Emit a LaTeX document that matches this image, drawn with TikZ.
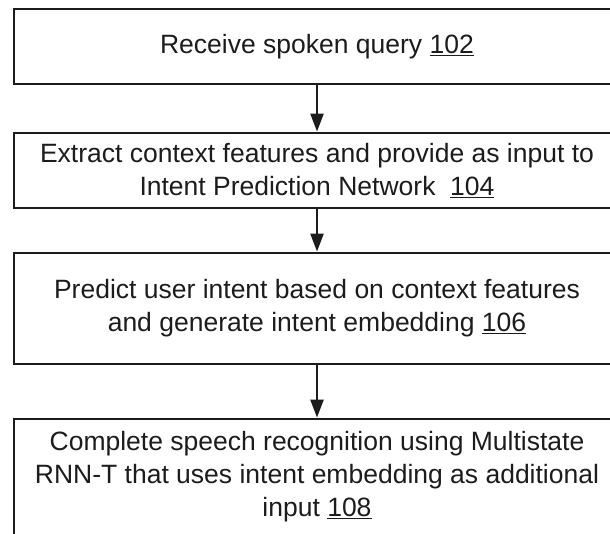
\documentclass[tikz,border=0pt]{standalone}
\usepackage{fontspec}
\setmainfont{Liberation Sans}
\usetikzlibrary{arrows.meta, positioning}

\definecolor{ink}{HTML}{1C1C1C}

\begin{document}
\begin{tikzpicture}[
    x=1pt, y=1pt,
    >={Triangle[width=13pt,length=18pt]},
    every node/.style={draw=ink, line width=2.8pt, minimum width=606pt,
        align=center, text=ink, font=\fontsize{26.5}{33}\selectfont},
    flow/.style={->, draw=ink, line width=2.4pt}
]

% Frame (the boxes run off the right and bottom edges)
\useasboundingbox (0,0) rectangle (610,-534);
\clip (0,0) rectangle (610,-534);

% Steps
\node[minimum height=75pt]  (query)   at (317,-46.5)  {Receive spoken query \underline{102}};
\node[minimum height=75pt]  (extract) at (317,-170.5) {Extract context features and provide as input to\\Intent Prediction Network\ \ \underline{104}};
\node[minimum height=111pt] (predict) at (317,-308.5) {Predict user intent based on context features\\and generate intent embedding \underline{106}};
\node[minimum height=116pt] (asr)     at (317,-477)   {Complete speech recognition using Multistate\\RNN-T that uses intent embedding as additional\\input \underline{108}};

% Arrows
\draw[flow] (query) -- (extract);
\draw[flow] (extract) -- (predict);
\draw[flow] (predict) -- (asr);

\end{tikzpicture}
\end{document}
